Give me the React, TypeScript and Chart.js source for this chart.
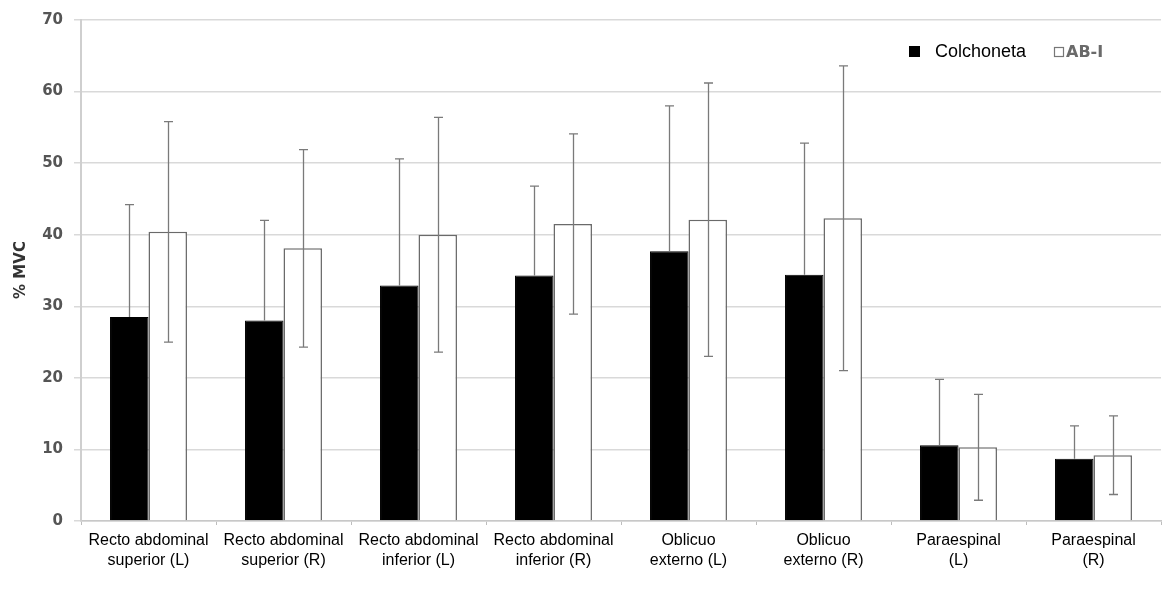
import React, { useEffect, useRef } from "react";
import { Chart, registerables } from "chart.js";

Chart.register(...registerables);

const categories: string[][] = [
  ["Recto abdominal", "superior (L)"],
  ["Recto abdominal", "superior (R)"],
  ["Recto abdominal", "inferior (L)"],
  ["Recto abdominal", "inferior (R)"],
  ["Oblicuo", "externo (L)"],
  ["Oblicuo", "externo (R)"],
  ["Paraespinal", "(L)"],
  ["Paraespinal", "(R)"],
];
const colchoneta = [28.5, 28.0, 32.9, 34.3, 37.7, 34.4, 10.6, 8.7];
const colchonetaSD = [15.7, 14.0, 17.7, 12.5, 20.3, 18.4, 9.2, 4.6];
const abi = [40.4, 38.1, 40.0, 41.5, 42.1, 42.3, 10.3, 9.2];
const abiSD = [15.4, 13.8, 16.4, 12.6, 19.1, 21.3, 7.4, 5.5];
const seriesNames = ["Colchoneta", "AB-I"];
const yTitle = "% MVC";

const errorBarsPlugin = {
  id: "errorBars",
  afterDatasetsDraw(chart: any) {
    const ctx = chart.ctx;
    const y = chart.scales.y;
    const sets = [
      { idx: 0, means: colchoneta, sds: colchonetaSD, down: false },
      { idx: 1, means: abi, sds: abiSD, down: true },
    ];
    ctx.save();
    ctx.strokeStyle = "#7a7a7a";
    ctx.lineWidth = 1.3;
    for (const s of sets) {
      const meta = chart.getDatasetMeta(s.idx);
      meta.data.forEach((bar: any, i: number) => {
        const x = Math.round(bar.x) + 0.5;
        const top = y.getPixelForValue(s.means[i] + s.sds[i]);
        const bottom = s.down
          ? y.getPixelForValue(s.means[i] - s.sds[i])
          : y.getPixelForValue(s.means[i]);
        ctx.beginPath();
        ctx.moveTo(x, top);
        ctx.lineTo(x, bottom);
        ctx.moveTo(x - 4.5, top);
        ctx.lineTo(x + 4.5, top);
        if (s.down) {
          ctx.moveTo(x - 4.5, bottom);
          ctx.lineTo(x + 4.5, bottom);
        }
        ctx.stroke();
      });
    }
    ctx.restore();
  },
  afterDraw(chart: any) {
    const ctx = chart.ctx;
    ctx.save();
    ctx.translate(21, 270);
    ctx.rotate(-Math.PI / 2);
    ctx.font = "bold 15px 'DejaVu Sans'";
    ctx.fillStyle = "#333333";
    ctx.textAlign = "center";
    ctx.textBaseline = "middle";
    ctx.fillText(yTitle, 0, 0);
    ctx.restore();

    ctx.save();
    ctx.fillStyle = "#000";
    ctx.fillRect(909, 46, 11, 11);
    ctx.font = "18px 'Liberation Sans'";
    ctx.textBaseline = "middle";
    ctx.textAlign = "left";
    ctx.fillText(seriesNames[0], 935, 52);
    ctx.strokeStyle = "#777";
    ctx.lineWidth = 1.2;
    ctx.strokeRect(1054.5, 47.5, 9, 9);
    ctx.font = "bold 16px 'DejaVu Sans'";
    ctx.fillStyle = "#6a6a6a";
    ctx.fillText(seriesNames[1], 1066, 53);
    ctx.restore();
  },
};

export default function App() {
  const ref = useRef<HTMLCanvasElement>(null);
  useEffect(() => {
    document.body.style.margin = "0";
    const chart = new Chart(ref.current!, {
      type: "bar",
      data: {
        labels: categories,
        datasets: [
          {
            label: seriesNames[0],
            data: colchoneta,
            backgroundColor: "#000000",
            borderColor: "#000000",
            borderWidth: 1,
          },
          {
            label: seriesNames[1],
            data: abi,
            backgroundColor: "#ffffff",
            borderColor: "#6a6a6a",
            borderWidth: 1.5,
          },
        ],
      },
      options: {
        responsive: false,
        animation: false,
        layout: { padding: { top: 19, right: 1, left: 0, bottom: 0 } },
        datasets: {
          bar: { categoryPercentage: 0.57, barPercentage: 1.0 },
        },
        plugins: {
          legend: { display: false },
          tooltip: { enabled: false },
        },
        scales: {
          x: {
            grid: {
              display: true,
              drawOnChartArea: false,
              offset: true,
              tickLength: 4,
              color: "#bdbdbd",
            },
            border: { color: "#c8c8c8", width: 1.5 },
            ticks: {
              color: "#000",
              font: { family: "'Liberation Sans'", size: 16, lineHeight: 1.25 },
              padding: 6,
              maxRotation: 0,
              autoSkip: false,
            },
            afterFit(scale: any) {
              scale.height = 76;
            },
          },
          y: {
            min: 0,
            max: 70,
            ticks: {
              stepSize: 10,
              color: "#555555",
              font: { family: "'DejaVu Sans'", size: 15, weight: "bold" },
              padding: 11,
            },
            grid: {
              color: "#d9d9d9",
              lineWidth: 1.5,
              tickLength: 7,
            },
            border: { color: "#cfcfcf", width: 2 },
            afterFit(scale: any) {
              scale.width = 81;
            },
          },
        },
      },
      plugins: [errorBarsPlugin],
    });
    return () => chart.destroy();
  }, []);
  return (
    <div style={{ width: 1162, height: 597 }}>
      <canvas ref={ref} width={1162} height={597} />
    </div>
  );
}
